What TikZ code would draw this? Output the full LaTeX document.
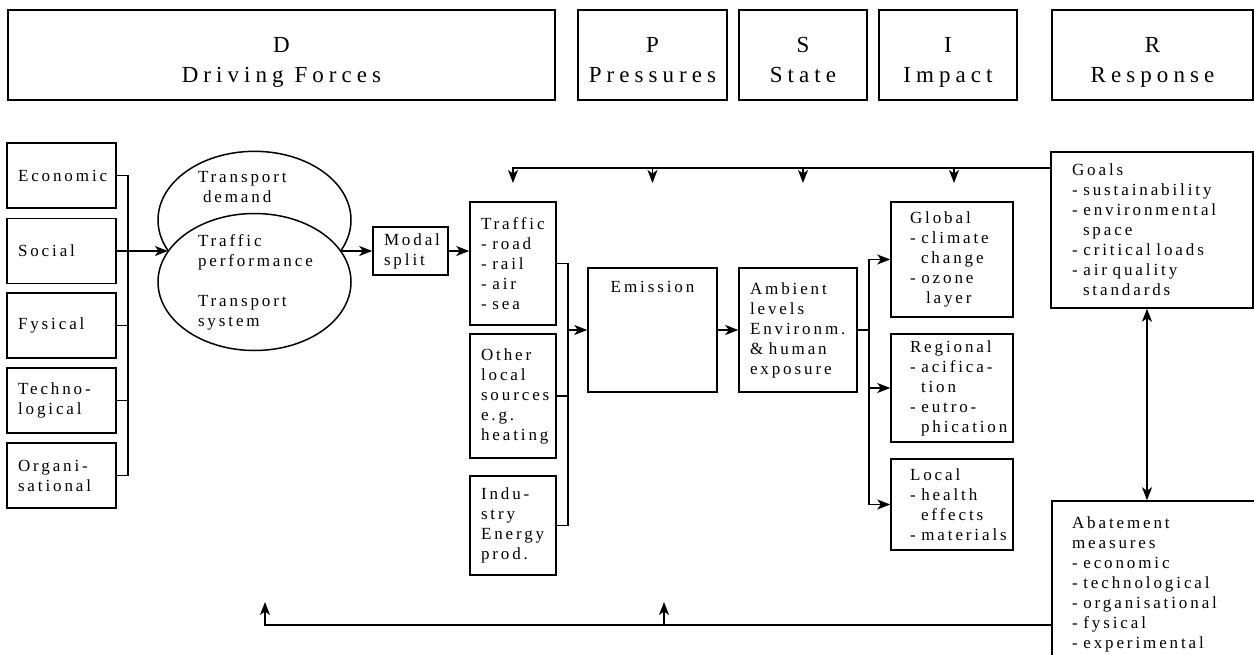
\documentclass[tikz,border=0pt]{standalone}
\usepackage{fontspec}
\setmainfont{Liberation Serif}[LetterSpace=17]
\newfontfamily\headfont{Liberation Serif}[LetterSpace=22]
\usetikzlibrary{arrows.meta,shapes.geometric}
\hyphenpenalty=10000
\exhyphenpenalty=10000
\begin{document}
\begin{tikzpicture}[x=1pt, y=-1pt, line width=1.5pt,
    >={Stealth[length=13pt,width=10pt,inset=3.5pt]},
    head/.style={draw, align=center, inner sep=0pt, minimum height=90pt, text height=60pt, text depth=5pt, font=\headfont\fontsize{23}{30}\selectfont},
    box/.style={draw, align=left, inner sep=0pt, font=\fontsize{17}{20}\selectfont},
    drv/.style={box, minimum width=109pt, minimum height=65pt, text width=87pt},
    src/.style={box, minimum width=86pt, text width=64pt},
    imp/.style={box, minimum width=122pt, text width=84pt},
    blob/.style={ellipse, draw, fill=white, align=left, inner sep=0pt, minimum width=193pt, minimum height=137pt, text width=113pt, font=\fontsize{17}{20}\selectfont}]
  \useasboundingbox (0,0) rectangle (1254,654);
  % DPSIR headers
  \node[head, minimum width=547pt] (hd) at (281.5,55) {D\\Driving Forces};
  \node[head, minimum width=149pt] (hp) at (652.5,55) {P\\Pressures};
  \node[head, minimum width=128pt] (hs) at (803,55) {S\\State};
  \node[head, minimum width=138pt] (hi) at (948,55) {I\\Impact};
  \node[head, minimum width=201pt] (hr) at (1152.5,55) {R\\Response};
  % driving forces
  \node[drv] (econ) at (61.5,175.5) {Economic};
  \node[drv] (soc) at (61.5,251) {Social};
  \node[drv] (fys) at (61.5,325.5) {Fysical};
  \node[drv] (tech) at (61.5,400.5) {Techno-\\logical};
  \node[drv] (org) at (61.5,475.5) {Organi-\\sational};
  \node[blob, text depth=86pt] (td) at (254.5,220) {Transport\\\hspace*{5pt}demand};
  \node[blob] (tp) at (254.5,282) {Traffic\\performance\\[20pt]Transport\\system};
  \node[box, minimum width=75pt, minimum height=48pt, text width=53pt] (modal) at (410.5,251) {Modal\\split};
  % pressures
  \node[src, minimum height=123pt] (traf) at (513,263.5) {Traffic\\-~road\\-~rail\\-~air\\-~sea};
  \node[src, minimum height=124pt] (other) at (513,396) {Other\\local\\sources\\e.g.\\heating};
  \node[src, minimum height=99pt] (ind) at (513,525.5) {Indu-\\stry\\Energy\\prod.};
  \node[box, align=center, minimum width=129pt, minimum height=124pt, text depth=86pt] (emis) at (652.5,330) {Emission};
  % state and impact
  \node[box, minimum width=118pt, minimum height=124pt, text width=96pt] (amb) at (798,330) {Ambient\\levels\\Environm.\\\&~human\\exposure};
  \node[imp, minimum height=115pt] (glob) at (952,259.5) {Global\\-~climate\\\hspace*{11pt}change\\-~ozone\\\hspace*{16pt}layer};
  \node[imp, minimum height=108pt] (reg) at (952,388) {Regional\\-~acifica-\\\hspace*{11pt}tion\\-~eutro-\\\hspace*{11pt}phication};
  \node[imp, minimum height=91pt] (loc) at (952,504.5) {Local\\-~health\\\hspace*{11pt}effects\\-~materials};
  % response
  \node[box, minimum width=202pt, minimum height=156pt, text width=160pt] (goals) at (1152,230) {Goals\\-~sustainability\\-~environmental\\\hspace*{11pt}space\\-~critical~loads\\-~air~quality\\\hspace*{11pt}standards};
  \node[box, minimum width=210pt, minimum height=167pt, text width=170pt] (abate) at (1157,584.5) {Abatement\\measures\\-~economic\\-~technological\\-~organisational\\-~fysical\\-~experimental};
  % connectors
  \draw (econ.east) -- ++(11,0) coordinate (busD) |- (org.east);
  \draw (fys.east) -- (fys.east -| busD);
  \draw (tech.east) -- (tech.east -| busD);
  \draw[->] (soc.east) -- (soc.east -| tp.160);
  \draw[->] (modal.west -| tp.20) -- (modal.west);
  \draw[->] (modal.east) -- (modal.east -| traf.west);
  \draw (traf.east) -- ++(11,0) coordinate (busP) |- (ind.east);
  \draw (other.east) -- (other.east -| busP);
  \draw[->] (emis.west -| busP) -- (emis.west);
  \draw[->] (emis.east) -- (amb.west);
  \draw (amb.east) -- ++(11,0) coordinate (busS);
  \draw[->] (busS) |- (glob.west);
  \draw[->] (busS) |- (reg.west);
  \draw[->] (busS) |- (loc.west);
  % feedback from response
  \coordinate (fbR) at (goals.west |- 0,168);
  \coordinate (fbT) at (0,183);
  \draw[->] (fbR) -| (traf.north |- fbT);
  \foreach \n/\dx in {emis/0, amb/5, glob/2}
    \draw[->] ([xshift=\dx pt]\n.north |- fbR) -- ([xshift=\dx pt]\n.north |- fbT);
  \coordinate (gs) at ([xshift=-5pt]goals.south);
  \draw[<->] (gs) -- (gs |- abate.north);
  \coordinate (fbL) at (abate.west |- 0,625);
  \coordinate (fbD) at (265,602);
  \coordinate (fbP) at (664,602);
  \draw[->] (fbL) -| (fbD);
  \draw[->] (fbL -| fbP) -- (fbP);
\end{tikzpicture}
\end{document}
